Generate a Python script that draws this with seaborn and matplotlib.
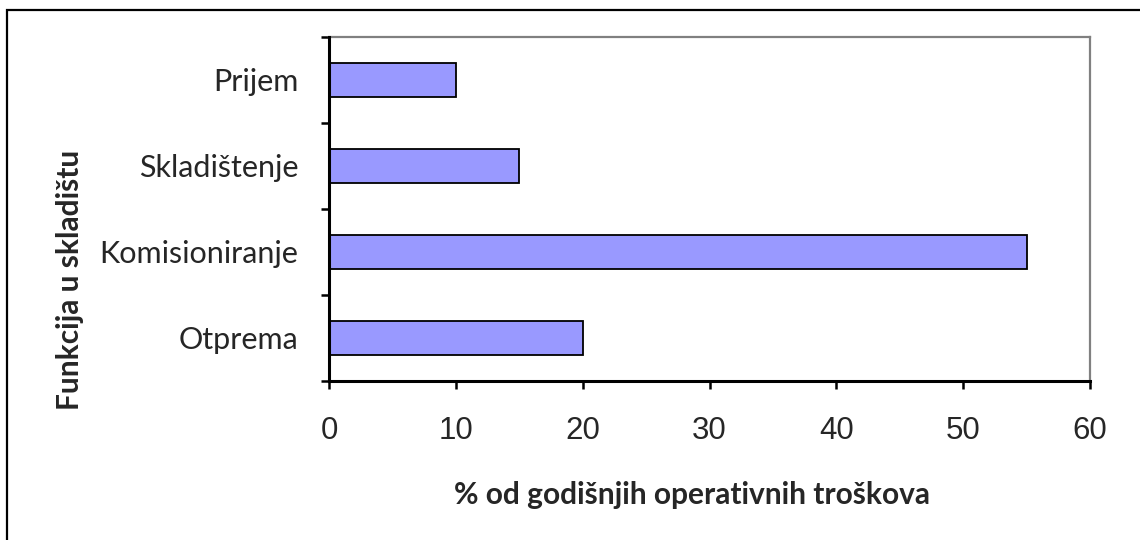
import numpy as np
import pandas as pd
import matplotlib
matplotlib.use("Agg")
import matplotlib.pyplot as plt
from matplotlib.patches import Rectangle
from matplotlib.ticker import FixedLocator
import seaborn as sns

# Data
categories = ["Prijem", "Skladištenje", "Komisioniranje", "Otprema"]
values = [10, 15, 55, 20]
x_ticks = [0, 10, 20, 30, 40, 50, 60]

sns.set_style("white")
plt.rcParams['font.family'] = ['Lato', 'DejaVu Sans']

W, H = 1140, 540
fig = plt.figure(figsize=(W / 100, H / 100), dpi=100)
ax = fig.add_axes([329 / W, 1 - 381 / H, (1090 - 329) / W, (381 - 37) / H])

df = pd.DataFrame({"Funkcija": categories, "Postotak": values})
sns.barplot(data=df, y="Funkcija", x="Postotak", orient="h", color="#9999FF",
            saturation=1, width=0.4, edgecolor="black", linewidth=1.3, ax=ax)

ax.set_xlim(0, 60)
ax.set_ylim(len(categories) - 0.5, -0.5)
ax.set_xticks(x_ticks)
ax.set_xticklabels([str(t) for t in x_ticks], family=['Liberation Sans'], fontsize=22.5)
ax.tick_params(axis="x", which="major", bottom=True, direction="out", length=6,
               width=1.8, color="black", pad=19)

# category labels without ticks, tick marks between categories
ax.set_yticks(range(len(categories)))
ax.set_yticklabels(categories, fontsize=22)
ax.tick_params(axis="y", which="major", left=True, length=0, pad=22)
ax.yaxis.set_minor_locator(FixedLocator(np.arange(-0.5, len(categories), 1.0)))
ax.tick_params(axis="y", which="minor", left=True, direction="out", length=6,
               width=1.8, color="black")

ax.set_xlabel("")
ax.set_ylabel("")

for side in ["left", "bottom"]:
    ax.spines[side].set_color("black")
    ax.spines[side].set_linewidth(2.2)
for side in ["top", "right"]:
    ax.spines[side].set_color("#808080")
    ax.spines[side].set_linewidth(1.6)
ax.spines["left"].set_zorder(5)
ax.spines["bottom"].set_zorder(5)

fig.text(692 / W, 1 - 495 / H, "% od godišnjih operativnih troškova",
         ha="center", va="center", fontsize=21.5, fontweight="bold")
fig.text(70 / W, 1 - 280 / H, "Funkcija u skladištu", rotation=90,
         ha="center", va="center", fontsize=21.5, fontweight="bold")

# chart area border (right and bottom edges fall outside the image)
fig.patches.append(Rectangle((7 / W, -0.1), 1.2, 1.1 - 10 / H,
                             transform=fig.transFigure, fill=False,
                             edgecolor="black", linewidth=1.6))

fig.savefig("out.png", dpi=100)
